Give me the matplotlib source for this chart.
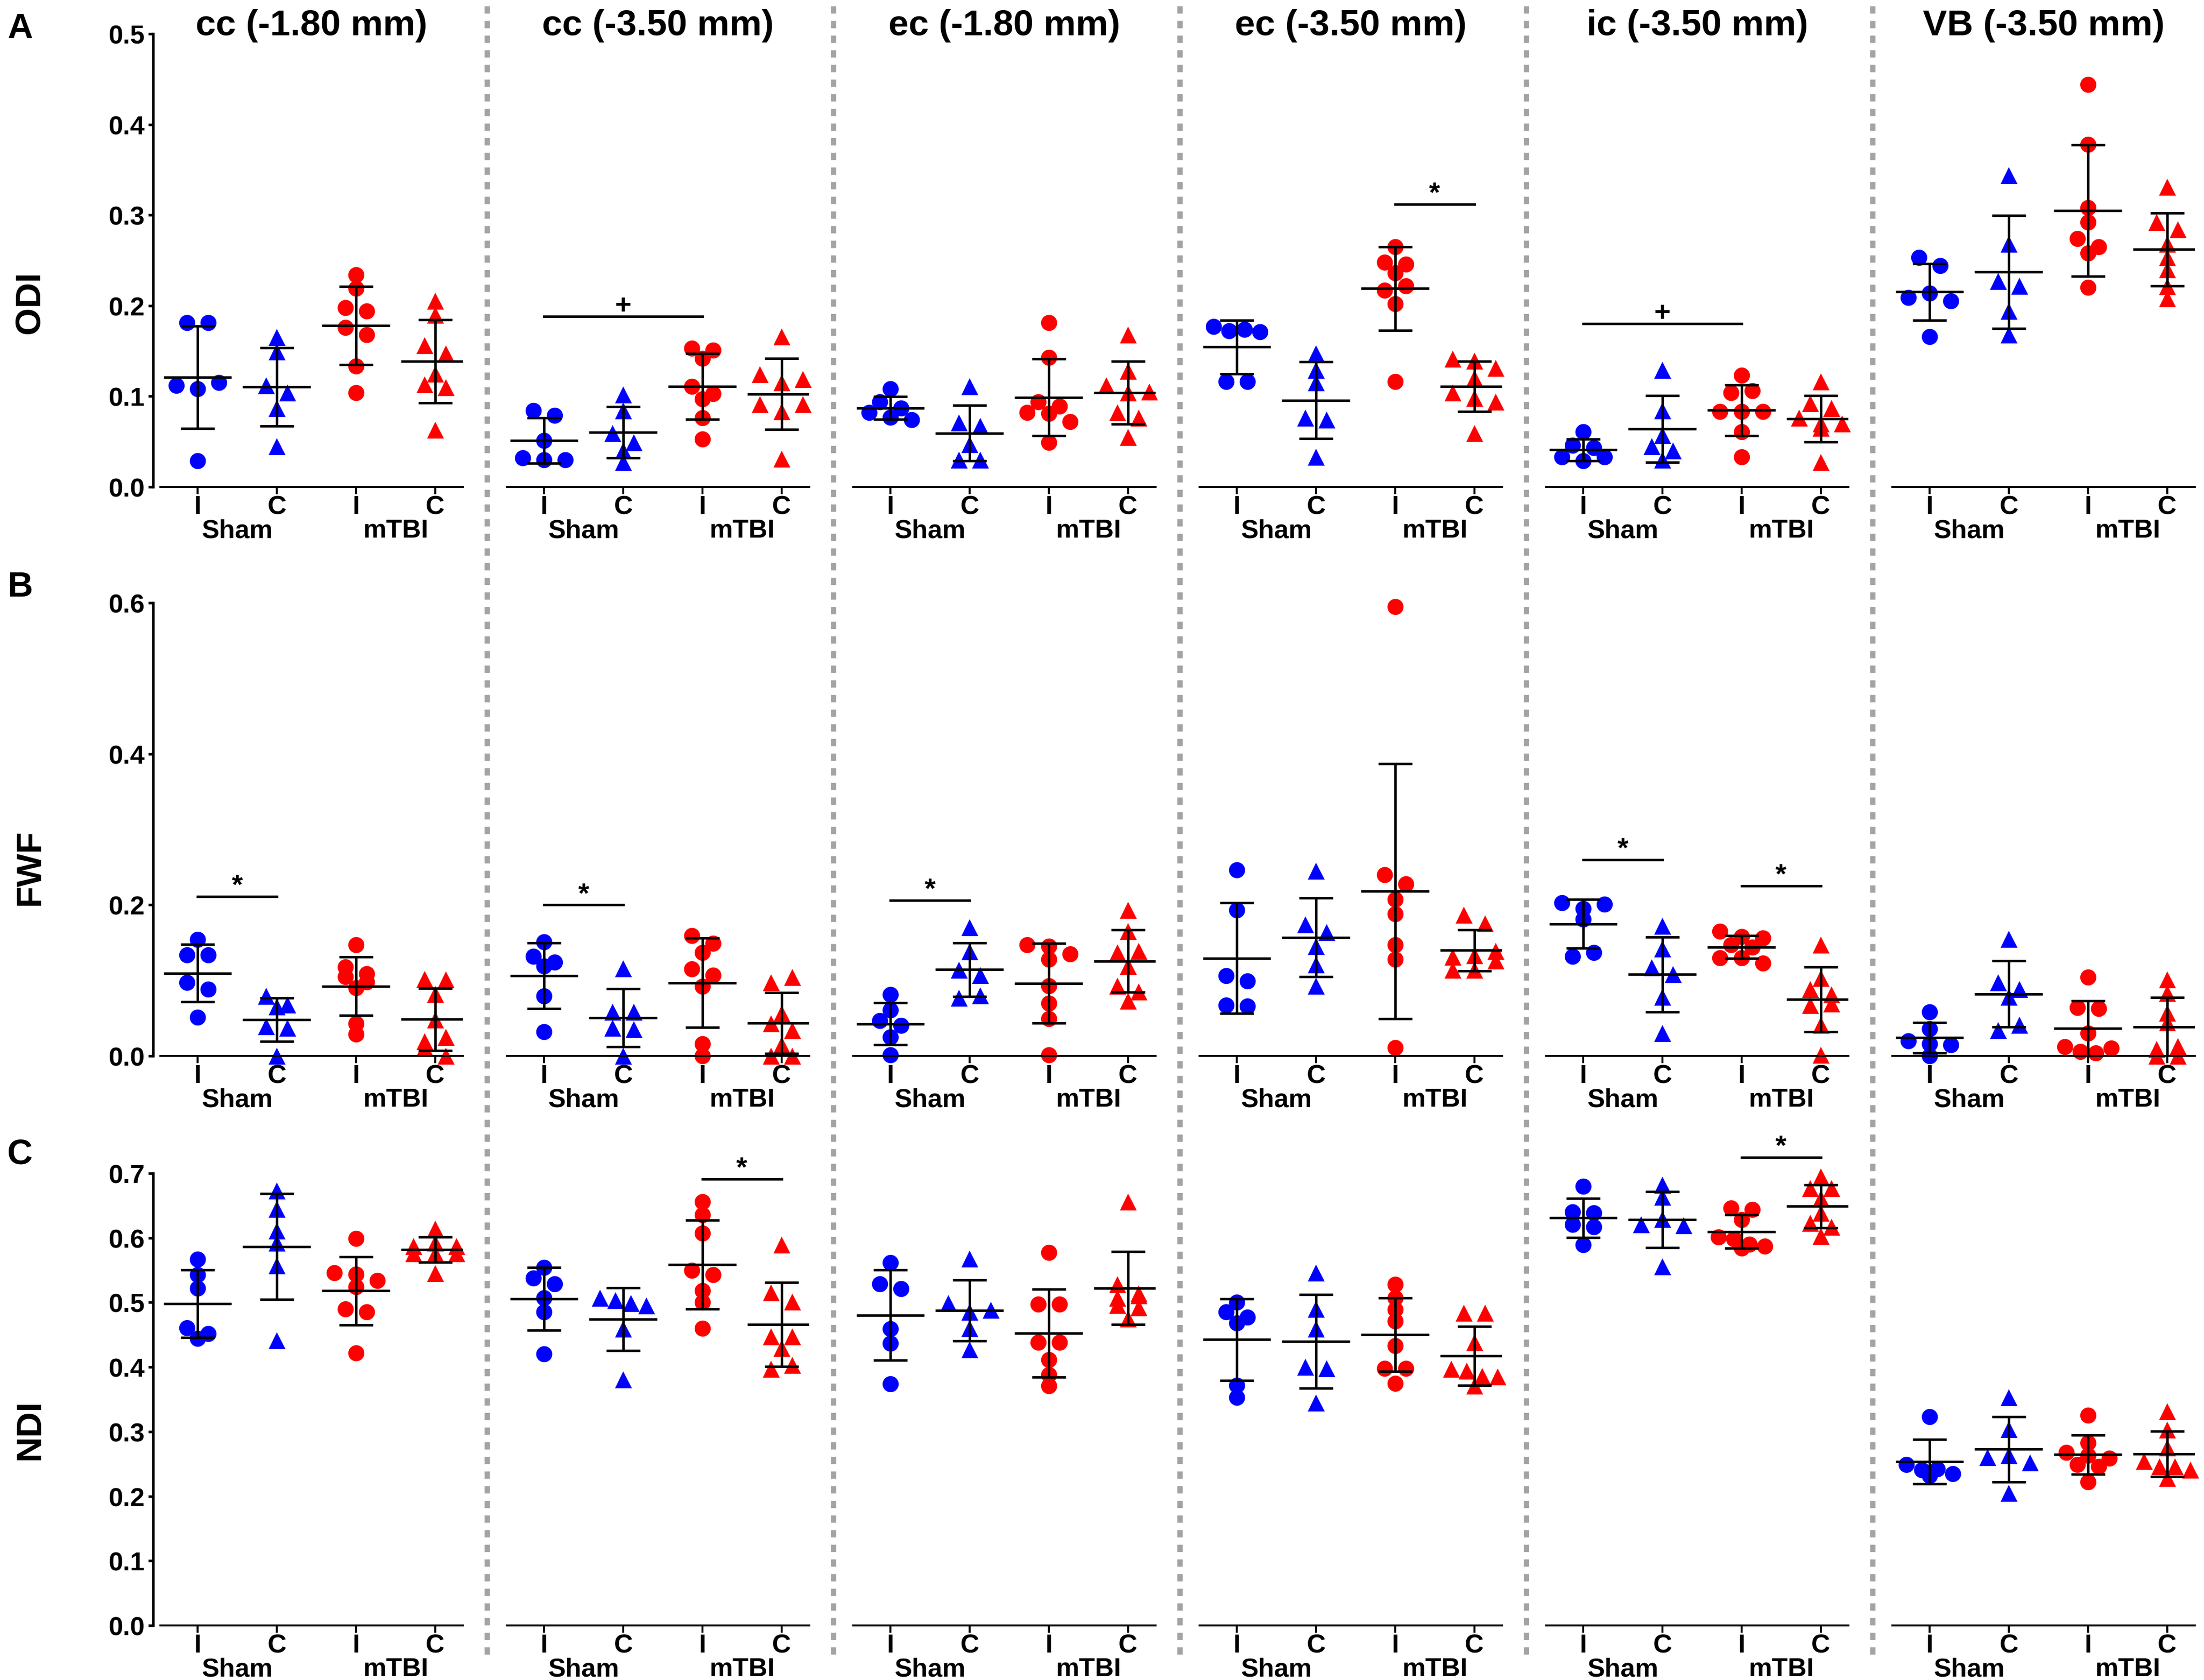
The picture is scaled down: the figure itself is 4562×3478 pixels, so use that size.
import matplotlib
matplotlib.use("Agg")
import numpy as np
import matplotlib.pyplot as plt
from matplotlib.lines import Line2D
from matplotlib.ticker import FormatStrFormatter

plt.rcParams['font.family'] = ['Liberation Sans', 'DejaVu Sans']
plt.rcParams['font.weight'] = 'bold'

# ---- chart content ----
REGIONS = ["cc (-1.80 mm)", "cc (-3.50 mm)", "ec (-1.80 mm)",
           "ec (-3.50 mm)", "ic (-3.50 mm)", "VB (-3.50 mm)"]
METRICS = ["ODI", "FWF", "NDI"]
PANELS = ["A", "B", "C"]
YMAX = [0.5, 0.6, 0.7]
YSTEP = [0.1, 0.2, 0.1]
GROUP_TICKS = ["I", "C", "I", "C"]
COHORTS = ["Sham", "mTBI"]

# one sub-list per region (column), in the order of REGIONS
ODI_SHAM_I = [[0.181, 0.181, 0.112, 0.108, 0.115, 0.029],
              [0.084, 0.079, 0.051, 0.032, 0.030, 0.030],
              [0.108, 0.094, 0.087, 0.082, 0.077, 0.074],
              [0.177, 0.172, 0.174, 0.171, 0.116, 0.116],
              [0.061, 0.046, 0.043, 0.033, 0.029, 0.033],
              [0.253, 0.244, 0.209, 0.214, 0.205, 0.166]]
ODI_SHAM_C = [[0.165, 0.149, 0.112, 0.104, 0.087, 0.045],
              [0.102, 0.084, 0.059, 0.049, 0.040, 0.027],
              [0.111, 0.071, 0.067, 0.047, 0.030, 0.030],
              [0.147, 0.129, 0.115, 0.076, 0.074, 0.033],
              [0.129, 0.084, 0.057, 0.045, 0.040, 0.030],
              [0.344, 0.268, 0.227, 0.222, 0.194, 0.168]]
ODI_MTBI_I = [[0.234, 0.219, 0.198, 0.194, 0.176, 0.168, 0.133, 0.104],
              [0.153, 0.151, 0.142, 0.111, 0.103, 0.097, 0.076, 0.053],
              [0.181, 0.143, 0.094, 0.089, 0.082, 0.081, 0.072, 0.049],
              [0.265, 0.248, 0.246, 0.236, 0.217, 0.222, 0.202, 0.116],
              [0.123, 0.104, 0.106, 0.083, 0.083, 0.083, 0.061, 0.033],
              [0.444, 0.378, 0.308, 0.292, 0.274, 0.265, 0.258, 0.220]]
ODI_MTBI_C = [[0.205, 0.190, 0.156, 0.147, 0.125, 0.113, 0.110, 0.063],
              [0.166, 0.124, 0.115, 0.119, 0.091, 0.083, 0.091, 0.031],
              [0.168, 0.128, 0.112, 0.104, 0.105, 0.082, 0.076, 0.055],
              [0.141, 0.139, 0.131, 0.120, 0.104, 0.098, 0.094, 0.059],
              [0.116, 0.092, 0.087, 0.076, 0.070, 0.070, 0.065, 0.027],
              [0.331, 0.292, 0.284, 0.268, 0.253, 0.240, 0.221, 0.208]]

FWF_SHAM_I = [[0.154, 0.134, 0.134, 0.097, 0.088, 0.051],
              [0.151, 0.132, 0.124, 0.119, 0.079, 0.032],
              [0.081, 0.061, 0.047, 0.040, 0.025, 0.001],
              [0.246, 0.193, 0.106, 0.099, 0.067, 0.066],
              [0.203, 0.195, 0.201, 0.181, 0.132, 0.137],
              [0.058, 0.036, 0.020, 0.016, 0.015, 0.000]]
FWF_SHAM_C = [[0.079, 0.068, 0.065, 0.039, 0.037, 0.000],
              [0.116, 0.058, 0.058, 0.037, 0.035, 0.000],
              [0.170, 0.138, 0.114, 0.107, 0.077, 0.080],
              [0.245, 0.174, 0.164, 0.145, 0.121, 0.093],
              [0.172, 0.142, 0.117, 0.108, 0.078, 0.030],
              [0.155, 0.097, 0.088, 0.078, 0.034, 0.041]]
FWF_MTBI_I = [[0.147, 0.118, 0.109, 0.105, 0.098, 0.090, 0.043, 0.029],
              [0.159, 0.149, 0.137, 0.115, 0.107, 0.092, 0.016, 0.000],
              [0.147, 0.145, 0.135, 0.128, 0.093, 0.070, 0.049, 0.001],
              [0.595, 0.240, 0.228, 0.207, 0.188, 0.147, 0.128, 0.011],
              [0.165, 0.158, 0.156, 0.147, 0.144, 0.130, 0.130, 0.123],
              [0.104, 0.064, 0.063, 0.030, 0.012, 0.006, 0.004, 0.010]]
FWF_MTBI_C = [[0.102, 0.101, 0.082, 0.048, 0.019, 0.025, 0.011, 0.000],
              [0.097, 0.104, 0.056, 0.043, 0.034, 0.015, 0.000, 0.000],
              [0.193, 0.165, 0.137, 0.139, 0.119, 0.093, 0.085, 0.073],
              [0.187, 0.175, 0.131, 0.133, 0.139, 0.114, 0.114, 0.126],
              [0.147, 0.103, 0.088, 0.081, 0.067, 0.069, 0.041, 0.001],
              [0.101, 0.083, 0.057, 0.044, 0.009, 0.013, 0.000, 0.000]]

NDI_SHAM_I = [[0.567, 0.543, 0.522, 0.461, 0.452, 0.444],
              [0.554, 0.538, 0.529, 0.507, 0.485, 0.420],
              [0.562, 0.529, 0.521, 0.459, 0.437, 0.374],
              [0.500, 0.485, 0.477, 0.468, 0.372, 0.353],
              [0.680, 0.640, 0.639, 0.621, 0.617, 0.589],
              [0.323, 0.249, 0.241, 0.242, 0.232, 0.235]]
NDI_SHAM_C = [[0.673, 0.645, 0.611, 0.592, 0.557, 0.441],
              [0.507, 0.503, 0.499, 0.495, 0.459, 0.381],
              [0.568, 0.499, 0.485, 0.488, 0.460, 0.427],
              [0.546, 0.490, 0.459, 0.400, 0.398, 0.345],
              [0.682, 0.663, 0.621, 0.629, 0.619, 0.556],
              [0.353, 0.304, 0.260, 0.263, 0.252, 0.205]]
NDI_MTBI_I = [[0.599, 0.546, 0.544, 0.534, 0.524, 0.490, 0.485, 0.422],
              [0.656, 0.636, 0.607, 0.550, 0.543, 0.518, 0.500, 0.460],
              [0.577, 0.497, 0.497, 0.438, 0.438, 0.411, 0.388, 0.371],
              [0.528, 0.507, 0.489, 0.471, 0.433, 0.398, 0.398, 0.375],
              [0.646, 0.644, 0.628, 0.601, 0.598, 0.590, 0.587, 0.584],
              [0.325, 0.283, 0.268, 0.263, 0.259, 0.249, 0.246, 0.222]]
NDI_MTBI_C = [[0.614, 0.587, 0.592, 0.587, 0.576, 0.576, 0.576, 0.545],
              [0.589, 0.515, 0.501, 0.447, 0.429, 0.397, 0.403, 0.447],
              [0.656, 0.528, 0.514, 0.507, 0.496, 0.492, 0.475, 0.511],
              [0.484, 0.484, 0.438, 0.397, 0.394, 0.386, 0.385, 0.371],
              [0.695, 0.677, 0.677, 0.661, 0.639, 0.623, 0.617, 0.603],
              [0.331, 0.303, 0.275, 0.254, 0.246, 0.246, 0.241, 0.228]]

DATA = [[ODI_SHAM_I, ODI_SHAM_C, ODI_MTBI_I, ODI_MTBI_C],
        [FWF_SHAM_I, FWF_SHAM_C, FWF_MTBI_I, FWF_MTBI_C],
        [NDI_SHAM_I, NDI_SHAM_C, NDI_MTBI_I, NDI_MTBI_C]]

# significance bars: (row, column, from group, to group, height, symbol)
SIGNIF = [(0, 1, 1, 3, 0.188, "+"),
          (0, 3, 3, 4, 0.312, "*"),
          (0, 4, 1, 3, 0.180, "+"),
          (1, 0, 1, 2, 0.211, "*"),
          (1, 1, 1, 2, 0.200, "*"),
          (1, 2, 1, 2, 0.206, "*"),
          (1, 4, 1, 2, 0.260, "*"),
          (1, 4, 3, 4, 0.225, "*"),
          (2, 1, 3, 4, 0.691, "*"),
          (2, 4, 3, 4, 0.725, "*")]

# ---- styling / layout ----
BLUE = "#0000ff"
RED = "#ff0000"
STYLES = [(BLUE, "o", 8.0), (BLUE, "^", 8.4), (RED, "o", 8.0), (RED, "^", 8.4)]

W, H = 4562, 3479
DPI = 300
PT = 72.0 / DPI          # points per pixel
ROW_TOP = [71, 1249, 2430]
ROW_BOT = [1009, 2187, 3366]
COL_X0 = 332
COL_PITCH = 717
COL_W = 626
XLIM = (0.53, 4.35)
LW = 1.25


def scatter_offsets(vals, diam, sx, sy, join=0.6, gap=1.38, max_span=3.0, max_row=4):
    """Prism-like dot layout: points close in y share a row, spread symmetrically."""
    ys = np.asarray(vals, dtype=float) * sy
    order = np.argsort(-ys, kind="stable")
    rows = []
    for i in order:
        if rows and len(rows[-1]) < max_row and ys[rows[-1][0]] - ys[i] < join * diam:
            rows[-1].append(i)
        else:
            rows.append([i])
    offs = np.zeros(len(ys))
    for row in rows:
        n = len(row)
        if n == 1:
            continue
        step = min(gap * diam, max_span * diam / (n - 1))
        for k, i in enumerate(sorted(row)):
            offs[i] = (k - (n - 1) / 2) * step / sx
    return offs


fig = plt.figure(figsize=(W / DPI, H / DPI), dpi=DPI)

sx = COL_W * PT / (XLIM[1] - XLIM[0])

for r in range(3):
    sy = (ROW_BOT[r] - ROW_TOP[r]) * PT / YMAX[r]
    for c in range(6):
        left = (COL_X0 + c * COL_PITCH) / W
        bottom = 1 - ROW_BOT[r] / H
        height = (ROW_BOT[r] - ROW_TOP[r]) / H
        ax = fig.add_axes([left, bottom, COL_W / W, height])
        ax.set_xlim(*XLIM)
        ax.set_ylim(0, YMAX[r])
        ax.patch.set_visible(False)

        for g in range(4):
            vals = np.array(DATA[r][g][c])
            pos = g + 1
            color, marker, ms = STYLES[g]
            xs = pos + scatter_offsets(vals, 7.7, sx, sy)
            ax.plot(xs, vals, ls="none", marker=marker, ms=ms, color=color,
                    mec="none", clip_on=False, zorder=2)
            mean = vals.mean()
            sd = vals.std(ddof=1)
            ax.hlines(mean, pos - 0.43, pos + 0.43, colors="k", lw=LW, zorder=3)
            ax.errorbar(pos, mean, yerr=sd, fmt="none", ecolor="k",
                        elinewidth=LW, capsize=0.215 * sx, capthick=LW, zorder=3)

        for sr, sc, g1, g2, yv, sym in SIGNIF:
            if sr == r and sc == c:
                ax.plot([g1, g2], [yv, yv], color="k", lw=LW, clip_on=False, zorder=3)
                ax.annotate(sym, xy=((g1 + g2) / 2, yv), xytext=(0, 1.5),
                            textcoords="offset points", ha="center", va="baseline",
                            fontsize=14, fontweight="bold", annotation_clip=False)

        for s in ["top", "right"]:
            ax.spines[s].set_visible(False)
        ax.spines["bottom"].set_linewidth(1.0)
        ax.set_xticks([1, 2, 3, 4])
        ax.set_xticklabels([])
        ax.tick_params(axis="x", length=3.5, width=1.0, direction="out")
        for i, lab in enumerate(GROUP_TICKS):
            ax.annotate(lab, xy=(i + 1, 0), xycoords=("data", "axes fraction"),
                        xytext=(0, -13.3), textcoords="offset points",
                        ha="center", va="baseline", fontsize=13, fontweight="bold",
                        annotation_clip=False)
        for i, lab in enumerate(COHORTS):
            ax.annotate(lab, xy=(2 * i + 1.5, 0), xycoords=("data", "axes fraction"),
                        xytext=(0, -25), textcoords="offset points",
                        ha="center", va="baseline", fontsize=13, fontweight="bold",
                        annotation_clip=False)

        if c == 0:
            ax.spines["left"].set_linewidth(1.3)
            ax.spines["left"].set_position(("outward", 3.6))
            ax.set_yticks(np.arange(0, YMAX[r] + 1e-9, YSTEP[r]))
            ax.yaxis.set_major_formatter(FormatStrFormatter("%.1f"))
            ax.tick_params(axis="y", length=2.5, width=1.3, pad=1.5, labelsize=13)
        else:
            ax.spines["left"].set_visible(False)
            ax.set_yticks([])

        if r == 0:
            fig.text((COL_X0 + c * COL_PITCH + COL_W / 2) / W, 1 - 73 / H, REGIONS[c],
                     ha="center", va="baseline", fontsize=18, fontweight="bold")

# metric labels and panel letters
for lab, ypx in zip(METRICS, [626, 1796, 2960]):
    fig.text(62 / W, 1 - ypx / H, lab, rotation=90, ha="center", va="center",
             fontsize=17.5, fontweight="bold")
for lab, ypx in zip(PANELS, [60, 1216, 2391]):
    fig.text(41 / W, 1 - ypx / H, lab, ha="center", va="center",
             fontsize=17.5, fontweight="bold")

# dotted separators between regions
for k in range(5):
    xf = (1008 + k * COL_PITCH) / W
    fig.add_artist(Line2D([xf, xf], [1 - 3426 / H, 1.0], transform=fig.transFigure,
                          color="#a3a3a3", lw=2.6, dashes=(1.4, 1.4)))

fig.savefig("out.png", dpi=DPI)
